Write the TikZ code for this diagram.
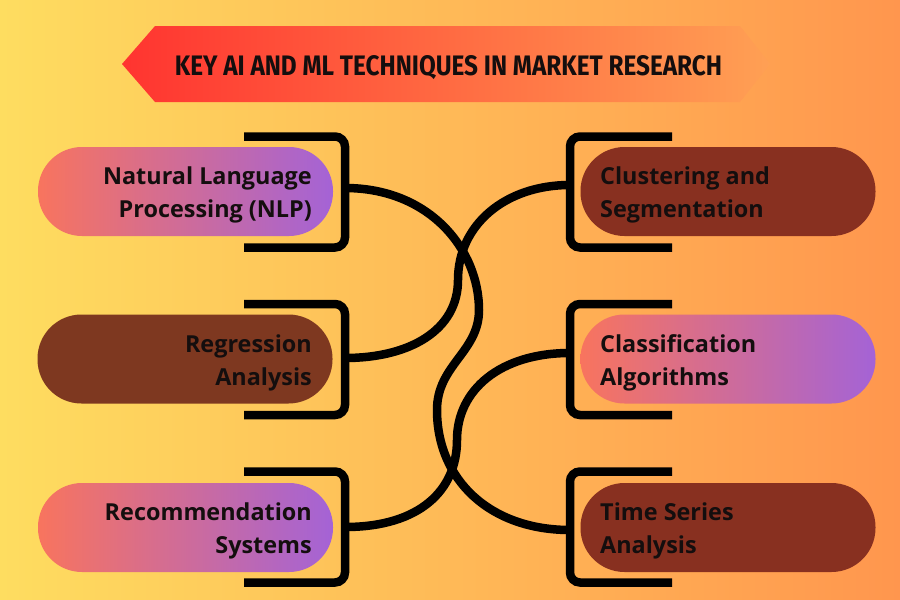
\documentclass[tikz,border=0pt]{standalone}
\usepackage{fontspec}
\setmainfont{Open Sans}
\newfontfamily\titlefont{Fira Sans}
\usepackage{graphicx}
\definecolor{bgL}{RGB}{254,221,96}
\definecolor{bgM}{RGB}{254,190,88}
\definecolor{bgR}{RGB}{255,150,78}
\definecolor{banL}{RGB}{255,52,48}
\definecolor{banR}{RGB}{255,160,84}
\definecolor{coral}{RGB}{248,116,94}
\definecolor{purp}{RGB}{164,99,214}
\definecolor{brownA}{RGB}{126,56,32}
\definecolor{brownB}{RGB}{136,48,32}
\definecolor{ink}{RGB}{20,14,14}
\begin{document}
\begin{tikzpicture}[x=1pt,y=-1pt,
  pill/.style={rectangle, rounded corners=44pt, minimum width=295pt, minimum height=89pt, inner sep=0pt},
  gradpill/.style={pill, left color=coral, right color=purp},
  brownpill/.style={pill, fill=#1},
  lbl/.style={font=\bfseries\fontsize{23.4}{33}\selectfont, text=ink, inner sep=0pt},
  brk/.style={line width=8.5pt, draw=black, rounded corners=10pt},
  conn/.style={line width=8.5pt, draw=black}
]
\useasboundingbox (0,0) rectangle (900,600);
\shade[left color=bgL, middle color=bgM, right color=bgR] (0,0) rectangle (900,600);

% title banner
\shade[left color=banL, right color=banR] (122,64) -- (155,26) -- (740,26) -- (770,64) -- (740,102) -- (155,102) -- cycle;
\node[anchor=base, inner sep=0pt, text=ink] (title) at (448.5,75) {\resizebox{547pt}{20pt}{\titlefont\bfseries KEY AI AND ML TECHNIQUES IN MARKET RESEARCH}};

% brackets
\foreach \r in {192,359.5,527} {
  \draw[brk] (244,\r-55.5) -- (345,\r-55.5) -- (345,\r+55.5) -- (244,\r+55.5);
  \draw[brk] (672,\r-55.5) -- (570,\r-55.5) -- (570,\r+55.5) -- (672,\r+55.5);
}

% pills
\node[gradpill] (nlp) at (185.5,191.5) {};
\node[brownpill=brownA] (reg) at (185,359) {};
\node[gradpill] (rec) at (185.5,527.5) {};
\node[brownpill=brownB] (clu) at (728,191.5) {};
\node[gradpill] (cla) at (728,359) {};
\node[brownpill=brownB] (tsa) at (728,527.5) {};

% labels
\node[lbl, anchor=east, align=right] (nlpT) at (312,195) {Natural Language\\Processing (NLP)};
\node[lbl, anchor=east, align=right] (regT) at (312,362.5) {Regression\\Analysis};
\node[lbl, anchor=east, align=right] (recT) at (312,530.5) {Recommendation\\Systems};
\node[lbl, anchor=west, align=left] (cluT) at (600,195) {Clustering and\\Segmentation};
\node[lbl, anchor=west, align=left] (claT) at (600,362.5) {Classification\\Algorithms};
\node[lbl, anchor=west, align=left] (tsaT) at (600,530.5) {Time Series\\Analysis};

% connector end points
\coordinate (nlpC) at (345,188);
\coordinate (regC) at (345,358);
\coordinate (recC) at (345,527);
\coordinate (cluC) at (570,185);
\coordinate (claC) at (570,353);
\coordinate (tsaC) at (570,530);

% connectors
\draw[conn] (nlpC) .. controls (430,188) and (479,250) .. (479,310)
  .. controls (479,352) and (437,365) .. (437,410)
  .. controls (437,480) and (490,530) .. (tsaC);
\draw[conn] (cluC) .. controls (505,185) and (458,225) .. (458,280)
  .. controls (458,330) and (410,358) .. (regC);
\draw[conn] (claC) .. controls (500,353) and (457,390) .. (457,440)
  .. controls (457,490) and (420,527) .. (recC);
\end{tikzpicture}
\end{document}
